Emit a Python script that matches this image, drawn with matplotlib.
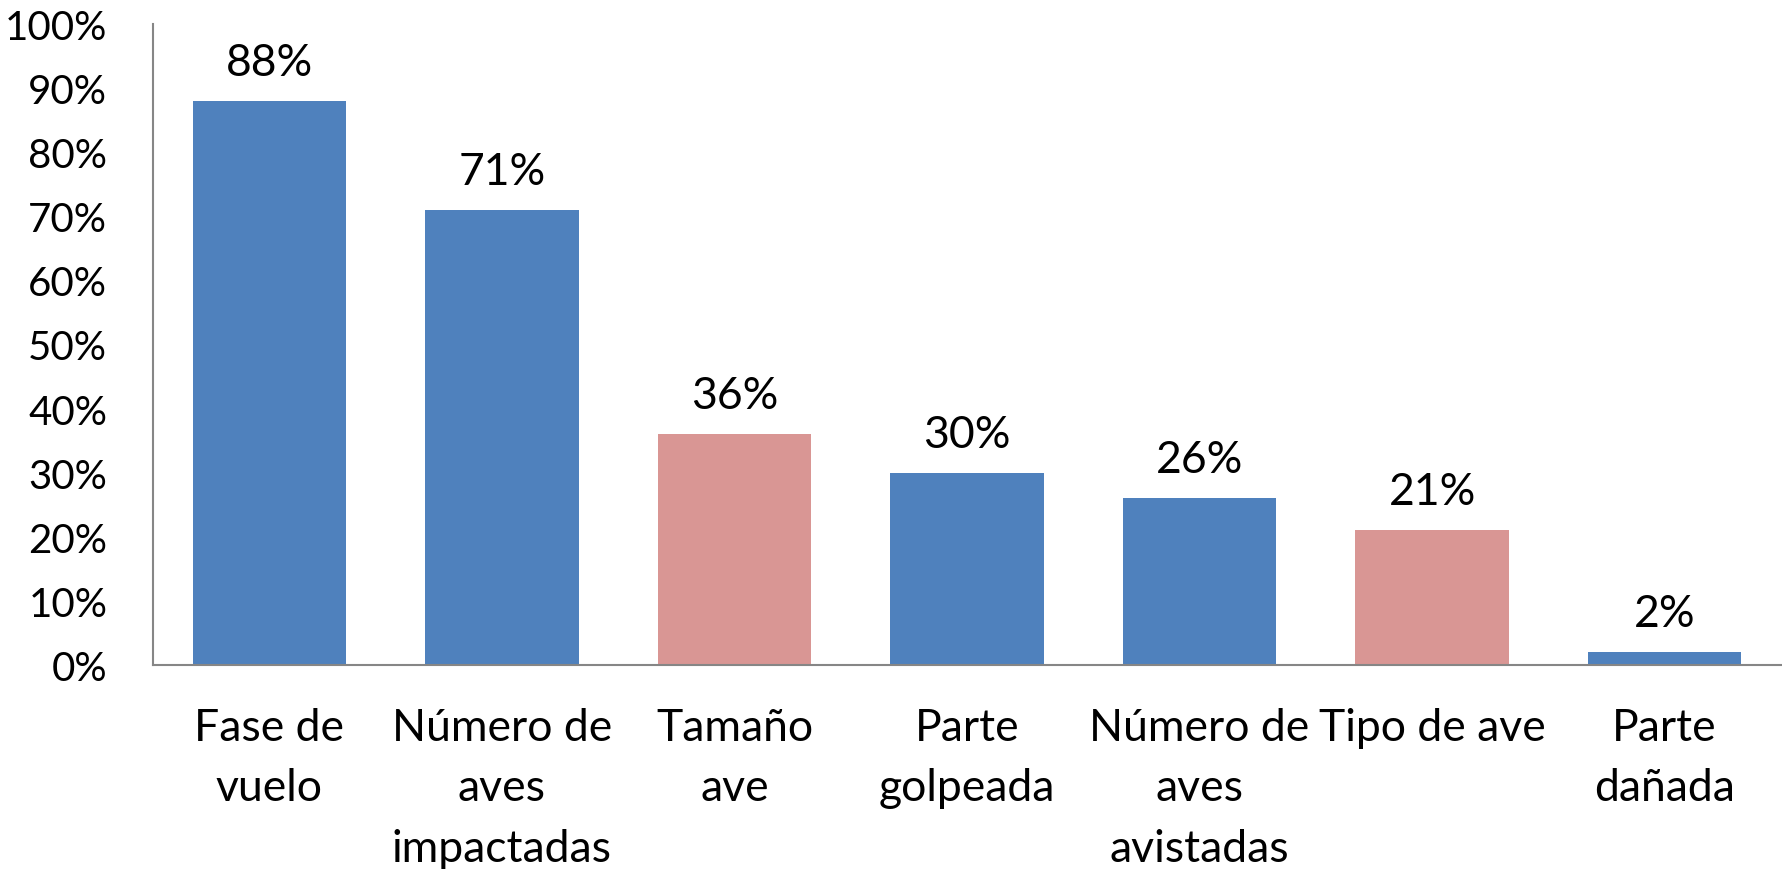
import matplotlib
matplotlib.use("Agg")
import matplotlib.pyplot as plt
from matplotlib.ticker import PercentFormatter

categorias = ["Fase de\nvuelo", "Número de\naves\nimpactadas", "Tamaño\nave",
              "Parte\ngolpeada", "Número de\naves\navistadas", "Tipo de ave",
              "Parte\ndañada"]
valores = [88, 71, 36, 30, 26, 21, 2]
colores = ["#4F81BD", "#4F81BD", "#D99694", "#4F81BD", "#4F81BD", "#D99694", "#4F81BD"]

plt.rcParams["font.family"] = ["Lato", "DejaVu Sans"]

fig = plt.figure(figsize=(17.82, 8.70), dpi=100)
ax = fig.add_axes([0.0859, 0.2345, 0.9135, 0.7368])

x = range(len(valores))
bars = ax.bar(x, valores, width=0.66, color=colores)
for b, v in zip(bars, valores):
    ax.annotate(f"{v}%", (b.get_x() + b.get_width() / 2, v),
                xytext=(0, 13), textcoords="offset points",
                ha="center", va="bottom", fontsize=32)

ax.set_xlim(-0.5, len(valores) - 0.5)
ax.set_ylim(0, 100)
ax.set_yticks(range(0, 101, 10))
ax.yaxis.set_major_formatter(PercentFormatter(decimals=0))
ax.set_xticks(list(x))
ax.set_xticklabels(categorias, fontsize=32, linespacing=1.6)
ax.tick_params(axis="y", length=0, pad=33, labelsize=29)
ax.tick_params(axis="x", length=0, pad=30)

for s in ("top", "right"):
    ax.spines[s].set_visible(False)
for s in ("left", "bottom"):
    ax.spines[s].set_color("#868686")
    ax.spines[s].set_linewidth(1.5)

fig.savefig("out.png", dpi=100)
